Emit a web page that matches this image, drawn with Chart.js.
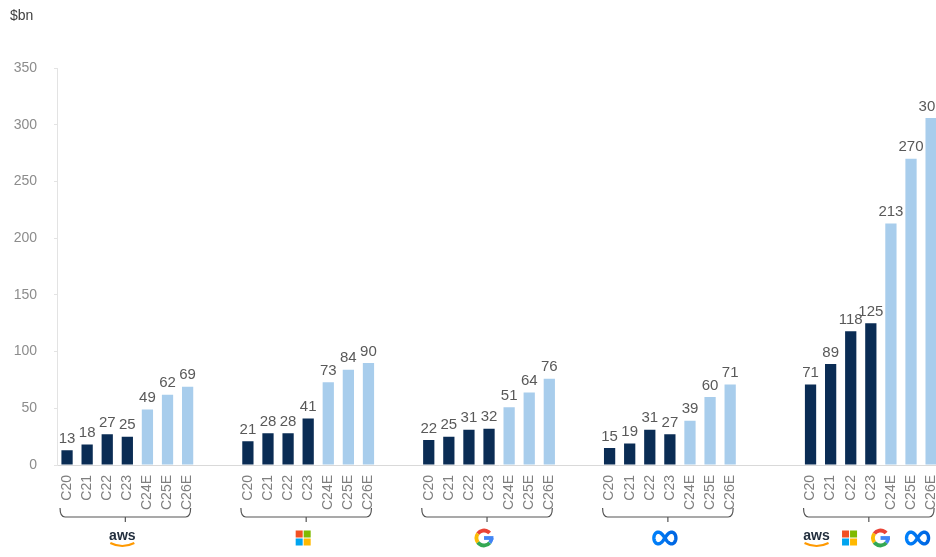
<!DOCTYPE html>
<html>
<head>
<meta charset="utf-8">
<script src="https://cdn.jsdelivr.net/npm/chart.js@4.4.1/dist/chart.umd.min.js"></script>
<style>
  html, body { margin: 0; background: #fff; overflow: hidden; }
  #wrap { width: 950px; height: 557px; }
</style>
</head>
<body>
<div id="wrap"><canvas id="capex" width="950" height="557"></canvas></div>
<script>
// ==== DATA ====
const YEARS = ['C20', 'C21', 'C22', 'C23', 'C24E', 'C25E', 'C26E'];
const ACTUAL_YEARS = 4; // first 4 are reported, rest are estimates
const GROUPS = ['aws', 'msft', 'google', 'meta', 'total'];
const AWS    = [13, 18, 27, 25, 49, 62, 69];
const MSFT   = [21, 28, 28, 41, 73, 84, 90];
const GOOGLE = [22, 25, 31, 32, 51, 64, 76];
const META   = [15, 19, 31, 27, 39, 60, 71];
const TOTAL  = [71, 89, 118, 125, 213, 270, 306];
const GAPS   = [2, 2, 2, 3]; // empty slots after each group
const Y_TICKS = [0, 50, 100, 150, 200, 250, 300, 350];
const UNIT = '$bn';

// ==== STYLE ====
const DARK = '#0a2c54';
const LIGHT = '#a8cdec';
const GREY_TXT = '#595959';
const FONT = "'Liberation Sans', Arial, sans-serif";

// Build flat category list (with blank slots between companies)
const seriesByGroup = [AWS, MSFT, GOOGLE, META, TOTAL];
const labels = [], values = [], colors = [], groupSpans = [];
seriesByGroup.forEach((vals, g) => {
  const first = labels.length;
  vals.forEach((v, i) => {
    labels.push(YEARS[i]);
    values.push(v);
    colors.push(i < ACTUAL_YEARS ? DARK : LIGHT);
  });
  groupSpans.push({ name: GROUPS[g], first, last: labels.length - 1 });
  for (let k = 0; k < (GAPS[g] || 0); k++) {
    labels.push('');
    values.push(null);
    colors.push(LIGHT);
  }
});

// ==== LOGO DRAWING ====
function drawAws(ctx, cx, cy) {
  ctx.save();
  ctx.fillStyle = '#232f3e';
  ctx.font = "bold 14px " + FONT;
  ctx.textAlign = 'center';
  ctx.textBaseline = 'alphabetic';
  ctx.fillText('aws', cx, cy + 2);
  ctx.strokeStyle = '#ff9900';
  ctx.lineWidth = 2;
  ctx.beginPath();
  ctx.moveTo(cx - 12, cy + 5);
  ctx.quadraticCurveTo(cx, cy + 11, cx + 12, cy + 5);
  ctx.stroke();
  ctx.restore();
}
function drawMsft(ctx, cx, cy) {
  const s = 7, gap = 1;
  const cols = ['#f25022', '#7fba00', '#00a4ef', '#ffb900'];
  ctx.save();
  [[0, 0], [1, 0], [0, 1], [1, 1]].forEach(([i, j], k) => {
    ctx.fillStyle = cols[k];
    ctx.fillRect(cx - s - gap / 2 + i * (s + gap), cy - s - gap / 2 + j * (s + gap), s, s);
  });
  ctx.restore();
}
function drawGoogle(ctx, cx, cy) {
  const r = 7.5, lw = 3.8, d = Math.PI / 180;
  ctx.save();
  ctx.lineWidth = lw;
  const arc = (a0, a1, col) => {
    ctx.strokeStyle = col;
    ctx.beginPath();
    ctx.arc(cx, cy, r, a0 * d, a1 * d);
    ctx.stroke();
  };
  arc(215, 318, '#ea4335');
  arc(145, 215, '#fbbc05');
  arc(40, 145, '#34a853');
  arc(0, 40, '#4285f4');
  ctx.fillStyle = '#4285f4';
  ctx.fillRect(cx, cy - lw / 2, r + lw / 2, lw);
  ctx.restore();
}
function drawMeta(ctx, cx, cy) {
  ctx.save();
  const grad = ctx.createLinearGradient(cx - 12, cy, cx + 12, cy);
  grad.addColorStop(0, '#0081fb');
  grad.addColorStop(1, '#0064e0');
  ctx.strokeStyle = grad;
  ctx.lineWidth = 3.4;
  ctx.lineJoin = 'round';
  ctx.beginPath();
  const a = 11;
  for (let t = 0; t <= Math.PI * 2 + 0.01; t += 0.05) {
    const den = 1 + Math.sin(t) * Math.sin(t);
    const x = cx + a * Math.cos(t) / den;
    const y = cy + 1.5 * a * Math.sin(t) * Math.cos(t) / den;
    if (t === 0) ctx.moveTo(x, y); else ctx.lineTo(x, y);
  }
  ctx.closePath();
  ctx.stroke();
  ctx.restore();
}
const LOGOS = { aws: drawAws, msft: drawMsft, google: drawGoogle, meta: drawMeta };

// ==== PLUGIN: value labels, brackets, logos, unit ====
const extras = {
  id: 'extras',
  afterDatasetsDraw(chart) {
    const ctx = chart.ctx;
    const meta = chart.getDatasetMeta(0);
    // value labels
    ctx.save();
    ctx.fillStyle = GREY_TXT;
    ctx.font = "15px " + FONT;
    ctx.textAlign = 'center';
    ctx.textBaseline = 'bottom';
    meta.data.forEach((bar, i) => {
      if (values[i] == null) return;
      ctx.fillText(String(values[i]), bar.x, bar.y - 4);
    });
    ctx.restore();

    // brackets + logos
    const xs = chart.scales.x;
    const yB = 517;
    ctx.save();
    ctx.strokeStyle = '#555';
    ctx.lineWidth = 1.2;
    groupSpans.forEach(g => {
      const x0 = xs.getPixelForValue(g.first) - 7;
      const x1 = xs.getPixelForValue(g.last) + 3;
      const mid = (x0 + x1) / 2;
      ctx.beginPath();
      ctx.moveTo(x0, yB - 9);
      ctx.quadraticCurveTo(x0, yB, x0 + 5, yB);
      ctx.lineTo(x1 - 5, yB);
      ctx.quadraticCurveTo(x1, yB, x1, yB - 9);
      ctx.moveTo(mid, yB);
      ctx.lineTo(mid, yB + 5);
      ctx.stroke();
      const ly = 538;
      if (g.name === 'total') {
        drawAws(ctx, x0 + 13, ly);
        drawMsft(ctx, x0 + 46, ly);
        drawGoogle(ctx, x0 + 77, ly);
        drawMeta(ctx, x0 + 114, ly);
      } else {
        LOGOS[g.name](ctx, mid - 3, ly);
      }
    });
    ctx.restore();

    // unit label
    ctx.save();
    ctx.fillStyle = '#404040';
    ctx.font = "14px " + FONT;
    ctx.textAlign = 'left';
    ctx.textBaseline = 'top';
    ctx.fillText(UNIT, 10, 9);
    ctx.restore();
  }
};

new Chart(document.getElementById('capex'), {
  type: 'bar',
  data: {
    labels,
    datasets: [{
      data: values,
      backgroundColor: colors,
      barPercentage: 0.56,
      categoryPercentage: 1.0
    }]
  },
  options: {
    responsive: false,
    animation: false,
    devicePixelRatio: 1,
    layout: { padding: { top: 68, right: 8, left: 0, bottom: 0 } },
    plugins: { legend: { display: false }, tooltip: { enabled: false } },
    scales: {
      x: {
        grid: { display: false },
        border: { color: '#d9d9d9' },
        ticks: {
          autoSkip: false, minRotation: 90, maxRotation: 90,
          color: '#7f7f7f', font: { family: FONT, size: 14 }, padding: 2
        },
        afterFit(scale) { scale.height = 92; }
      },
      y: {
        min: 0, max: 350,
        afterBuildTicks(scale) { scale.ticks = Y_TICKS.map(v => ({ value: v })); },
        grid: { drawOnChartArea: false, drawTicks: true, tickLength: 3, color: '#e3e3e3' },
        border: { color: '#e3e3e3' },
        ticks: { color: '#8c8c8c', font: { family: FONT, size: 14 }, padding: 17 },
        afterFit(scale) { scale.width = 57; }
      }
    }
  },
  plugins: [extras]
});
</script>
</body>
</html>
